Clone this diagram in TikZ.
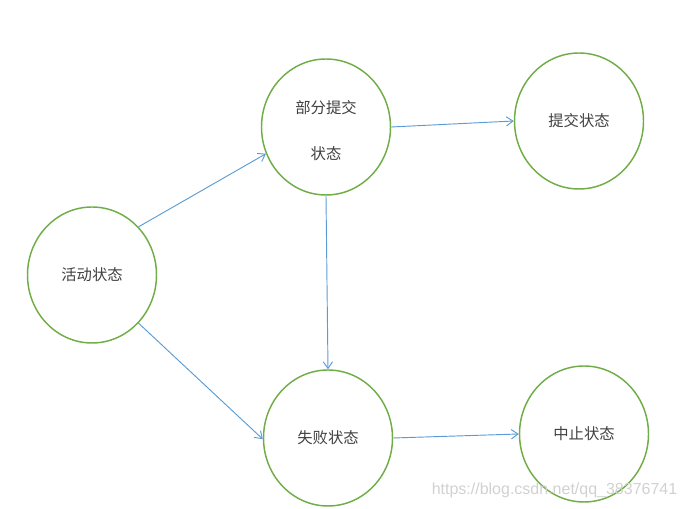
\documentclass[tikz,border=0pt]{standalone}
\usepackage{fontspec}
\usepackage{xcolor}
\usepackage{tikz}
\newfontfamily\cjk{Noto Sans CJK SC}
\newfontfamily\wmfont{Liberation Sans}
\usetikzlibrary{shapes.geometric,arrows.meta}
\definecolor{stgreen}{HTML}{70AD47}
\definecolor{stblue}{HTML}{5B9BD5}
\definecolor{sttext}{HTML}{404040}

\begin{document}
\begin{tikzpicture}[x=0.75pt,y=-0.75pt,
                state/.style={draw=stgreen,line width=1.1pt,ellipse,minimum width=96.75pt,minimum height=102pt,inner sep=0pt,text=sttext,align=center,font=\cjk\fontsize{11.5}{13}\selectfont},
                trans/.style={draw=stblue,line width=0.7pt,-{Straight Barb[length=5pt,width=7pt]}}]
                \useasboundingbox (0,0) rectangle (687,509);
                \node[state] (active) at (92,275) {活动状态};
                \node[state,text height=50.5pt,text depth=2pt] (partial) at (326,127) {部分提交\\[21pt]状态};
                \node[state] (commit) at (579,121) {提交状态};
                \node[state] (fail) at (328,438) {失败状态};
                \node[state] (abort) at (584,434) {中止状态};
                \draw[trans] (active.46) -- (partial.204);
                \draw[trans] (active.-46) -- (fail.181);
                \draw[trans] (partial.east) -- (commit.west);
                \draw[trans] (partial.south) -- (fail.north);
                \draw[trans] (fail.east) -- (abort.west);
                \node[anchor=east,text=black!18,font=\wmfont\fontsize{12}{13}\selectfont] (mark) at (682,490) {https://blog.csdn.net/qq\_38376741};
            \end{tikzpicture}
\end{document}
